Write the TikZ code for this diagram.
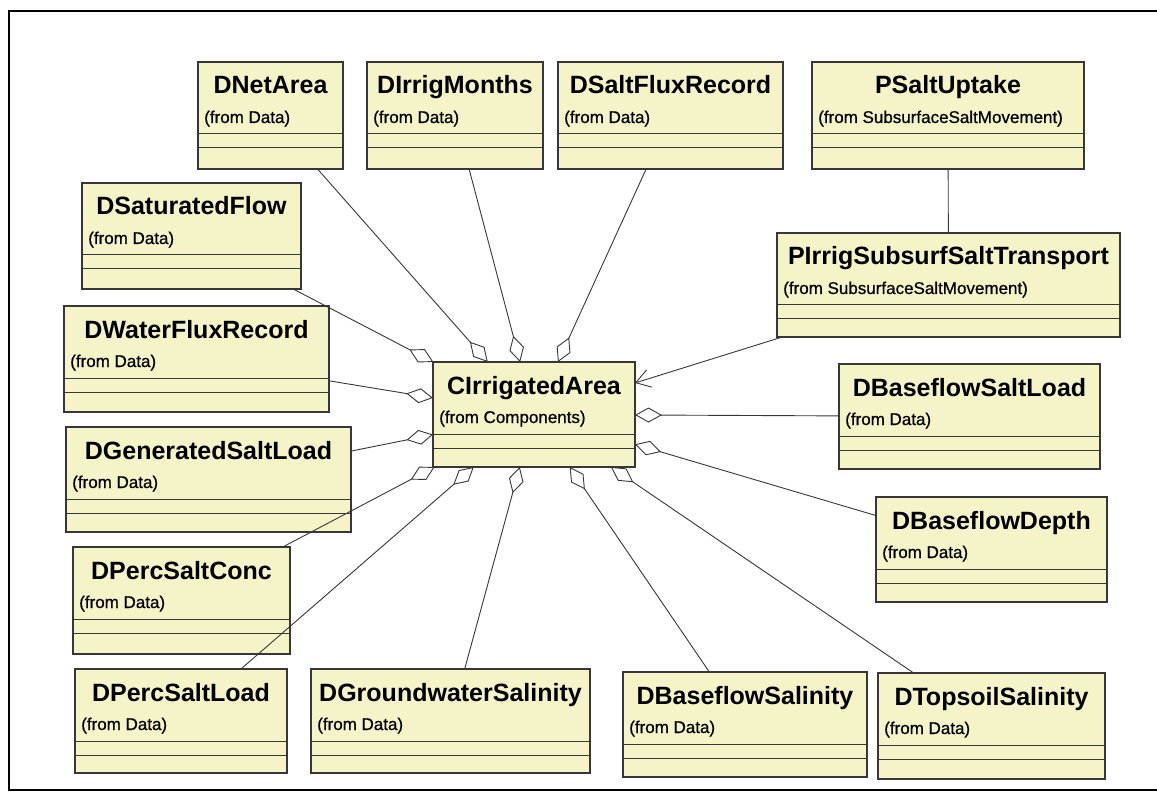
\documentclass[tikz,border=0pt]{standalone}
\usepackage{fontspec}
\setmainfont{Liberation Sans}
\newfontfamily\subfont[FakeBold=0.6]{Liberation Sans}
\usetikzlibrary{arrows.meta,calc}
\definecolor{boxfill}{RGB}{245,243,200}
\definecolor{edgecol}{RGB}{55,55,55}
\tikzset{
  classbox/.style={draw=edgecol, fill=boxfill, line width=1.1pt, inner sep=0pt, outer sep=0pt},
  titletext/.style={font=\fontsize{25}{30}\selectfont\bfseries, inner sep=0pt, anchor=base},
  subtext/.style={font=\subfont\fontsize{17}{20}\selectfont, inner sep=0pt, anchor=base west},
  seprule/.style={draw=edgecol, line width=1pt},
  link/.style={draw=edgecol, line width=0.9pt},
  aggr/.style={link, -{Diamond[open, length=27pt, width=15pt, line width=0.9pt]}},
  navarrow/.style={link, -{Straight Barb[length=14pt, width=18pt, line width=0.9pt]}},
  framestyle/.style={draw=black, line width=1.8pt}
}
\newcommand\umlclass[7]{%
  \node[classbox, minimum width=#4pt, minimum height=#5pt, anchor=north west] (#1) at (#2pt,-#3pt) {};
  \node[titletext] (#1-t) at ($(#1.north)+(0,-32pt)$) {#6};
  \node[subtext] (#1-s) at ($(#1.north west)+(6pt,-61pt)$) {#7};
  \draw[seprule] ($(#1.north west)+(0,-72pt)$) -- ($(#1.north east)+(0,-72pt)$);
  \draw[seprule] ($(#1.north west)+(0,-86pt)$) -- ($(#1.north east)+(0,-86pt)$);
}
\begin{document}
\begin{tikzpicture}
\useasboundingbox (0,0) rectangle (1157pt,-794pt);
\draw[framestyle] (1157pt,-11pt) -- (9pt,-11pt) -- (9pt,-790pt) -- (1157pt,-790pt);

\umlclass{netarea}{198}{62}{145}{107}{DNetArea}{(from Data)}
\umlclass{irrmonths}{367}{62}{176}{107}{DIrrigMonths}{(from Data)}
\umlclass{saltflux}{558}{62}{225}{107}{DSaltFluxRecord}{(from Data)}
\umlclass{saltuptake}{812}{62}{272}{107}{PSaltUptake}{(from SubsurfaceSaltMovement)}
\umlclass{satflow}{82}{183}{219}{106}{DSaturatedFlow}{(from Data)}
\umlclass{waterflux}{64}{306}{265}{106}{DWaterFluxRecord}{(from Data)}
\umlclass{gensalt}{66}{427}{285}{105}{DGeneratedSaltLoad}{(from Data)}
\umlclass{percconc}{73}{547}{217}{107}{DPercSaltConc}{(from Data)}
\umlclass{percload}{75}{669}{212}{104}{DPercSaltLoad}{(from Data)}
\umlclass{gwsal}{311}{669}{279}{104}{DGroundwaterSalinity}{(from Data)}
\umlclass{bfsal}{623}{672}{244}{105}{DBaseflowSalinity}{(from Data)}
\umlclass{topsal}{878}{673}{227}{106}{DTopsoilSalinity}{(from Data)}
\umlclass{bfdepth}{876}{497}{231}{105}{DBaseflowDepth}{(from Data)}
\umlclass{bfsaltload}{839}{364}{261}{105}{DBaseflowSaltLoad}{(from Data)}
\umlclass{transport}{777}{233}{343}{104}{PIrrigSubsurfSaltTransport}{(from SubsurfaceSaltMovement)}
\umlclass{irrarea}{433}{362}{202}{105}{CIrrigatedArea}{(from Components)}

\draw[aggr] (netarea) -- (irrarea);
\draw[aggr] (irrmonths) -- (irrarea);
\draw[aggr] (saltflux) -- (irrarea);
\draw[aggr] (satflow) -- (irrarea);
\draw[aggr] (waterflux) -- (irrarea);
\draw[aggr] (gensalt) -- (irrarea);
\draw[aggr] (percconc) -- (irrarea);
\draw[aggr] (percload) -- (irrarea);
\draw[aggr] (gwsal) -- (irrarea);
\draw[aggr] (bfsal) -- (irrarea);
\draw[aggr] (topsal) -- (irrarea);
\draw[aggr] (bfdepth) -- (irrarea);
\draw[aggr] (bfsaltload) -- (irrarea);
\draw[navarrow] (transport) -- (irrarea);
\draw[link] (saltuptake) -- (transport);
\end{tikzpicture}
\end{document}
